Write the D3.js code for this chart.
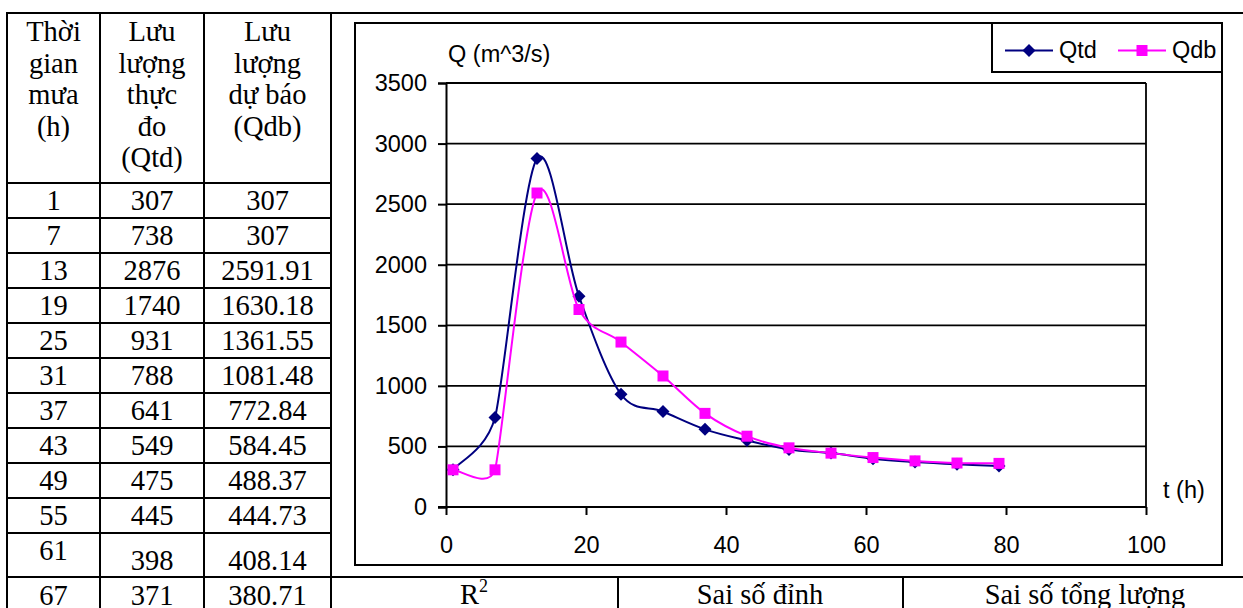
<!DOCTYPE html>
<html><head><meta charset="utf-8">
<script src="https://cdn.jsdelivr.net/npm/d3@7"></script>
<style>html,body{margin:0;padding:0;background:#fff;} svg{display:block}</style>
</head><body>
<svg id="c" width="1243" height="608"></svg>
<script>
// ---------- data ----------
const times = [1,7,13,19,25,31,37,43,49,55,61,67,73,79];
const qtd = [307,738,2876,1740,931,788,641,549,475,445,398,371,352,338];
const qdb = [307,307,2591.91,1630.18,1361.55,1081.48,772.84,584.45,488.37,444.73,408.14,380.71,363,360];
const tableRowCount = 12;
const headerCol1 = ["Thời","gian","mưa","(h)"];
const headerCol2 = ["Lưu","lượng","thực","đo","(Qtd)"];
const headerCol3 = ["Lưu","lượng","dự báo","(Qdb)"];
const statLabels = ["R", "Sai số đỉnh", "Sai số tổng lượng"];
const xTicks = [0,20,40,60,80,100];
const yTicks = [0,500,1000,1500,2000,2500,3000,3500];
const seriesNames = ["Qtd","Qdb"];
const yTitle = "Q (m^3/s)";
const xTitle = "t (h)";

// ---------- setup ----------
const svg = d3.select("#c");
const SERIF = "'Liberation Serif','Times New Roman',serif";
const SANS = "'Liberation Sans',Arial,sans-serif";
const TFS = 28.5, CFS = 23.5;
const NAVY = "#000080", MAG = "#FF00FF";

svg.append("rect").attr("width",1243).attr("height",608).attr("fill","#fff");

// ---------- table ----------
const colX = [7,100,204,331];
const rowTop = i => i < 11 ? 183 + 35*i : 577;
const tbl = svg.append("g").attr("stroke","#000").attr("stroke-width",2);
const hline = (x1,x2,y) => tbl.append("line").attr("x1",x1).attr("x2",x2).attr("y1",y).attr("y2",y);
const vline = (x,y1,y2) => tbl.append("line").attr("x1",x).attr("x2",x).attr("y1",y1).attr("y2",y2);
hline(6,1243,13);
colX.forEach(x => vline(x,12,608));
for (let i=0;i<11;i++) hline(6,332,rowTop(i));
hline(6,1243,577);
vline(618,577,608); vline(903,577,608);

const colC = [53.5,152,267.5];
const txt = svg.append("g").attr("font-family",SERIF).attr("font-size",TFS).attr("text-anchor","middle").attr("fill","#000");
[headerCol1,headerCol2,headerCol3].forEach((lines,c) => {
  lines.forEach((s,j) => txt.append("text").attr("x",colC[c]).attr("y",41 + 31.5*j).text(s));
});
for (let i=0;i<tableRowCount;i++){
  const top = rowTop(i);
  let b1 = top+27, b2 = top+27;
  if (i===10){ b1 = top+27; b2 = top+37; }
  if (i===11){ b1 = top+28; b2 = top+28; }
  txt.append("text").attr("x",colC[0]).attr("y",b1).text(String(times[i]));
  txt.append("text").attr("x",colC[1]).attr("y",b2).text(String(qtd[i]));
  txt.append("text").attr("x",colC[2]).attr("y",b2).text(String(qdb[i]));
}
// stats row
const r2 = txt.append("text").attr("x",474).attr("y",604);
r2.append("tspan").text(statLabels[0]);
r2.append("tspan").attr("font-size",18).attr("dy",-12).text("2");
txt.append("text").attr("x",760).attr("y",604).text(statLabels[1]);
txt.append("text").attr("x",1085).attr("y",604).text(statLabels[2]);

// ---------- chart ----------
svg.append("rect").attr("x",355).attr("y",23).attr("width",867).attr("height",542)
  .attr("fill","#fff").attr("stroke","#000").attr("stroke-width",2);

const x = d3.scaleLinear().domain([0,100]).range([446,1146]);
const y = d3.scaleLinear().domain([0,3500]).range([507,83]);

const g = svg.append("g");
// gridlines
g.append("g").selectAll("line").data(yTicks.filter(v=>v>0)).join("line")
  .attr("x1",x(0)).attr("x2",x(100)).attr("y1",d=>y(d)).attr("y2",d=>y(d))
  .attr("stroke","#000").attr("stroke-width",1.8);
// plot area right border
g.append("line").attr("x1",x(100)).attr("x2",x(100)).attr("y1",y(3500)).attr("y2",y(0))
  .attr("stroke","#000").attr("stroke-width",1.8);

const yAxis = g.append("g").attr("transform",`translate(${x(0)},0)`)
  .call(d3.axisLeft(y).tickValues(yTicks).tickSize(8).tickPadding(11).tickFormat(d3.format("d")));
const xAxis = g.append("g").attr("transform",`translate(0,${y(0)})`)
  .call(d3.axisBottom(x).tickValues(xTicks).tickSize(8).tickPadding(21).tickFormat(d3.format("d")));
[yAxis,xAxis].forEach(a => {
  a.select(".domain").attr("stroke","#000").attr("stroke-width",2);
  a.selectAll(".tick line").attr("stroke","#000").attr("stroke-width",2);
  a.selectAll("text").attr("font-family",SANS).attr("font-size",CFS).attr("fill","#000");
});
xAxis.select(".domain").attr("d",`M${x(0)-8},0H${x(100)}`);

g.append("text").attr("x",448).attr("y",62).attr("font-family",SANS).attr("font-size",CFS).text(yTitle);
g.append("text").attr("x",1163).attr("y",498).attr("font-family",SANS).attr("font-size",CFS).text(xTitle);

// Excel-like smoothing curve
function excelCurve(context){
  let pts;
  return {
    areaStart(){}, areaEnd(){},
    lineStart(){ pts = []; },
    point(px,py){ pts.push([+px,+py]); },
    lineEnd(){
      const n = pts.length; if (!n) return;
      context.moveTo(pts[0][0],pts[0][1]);
      const cin=[], cout=[];
      for (let i=0;i<n;i++){
        const p=pts[i], pr=pts[Math.max(i-1,0)], nx=pts[Math.min(i+1,n-1)];
        const dx=nx[0]-pr[0], dy=nx[1]-pr[1], d02=Math.hypot(dx,dy);
        if (d02===0){ cin[i]=p; cout[i]=p; continue; }
        let arm=d02/6;
        if (i>0 && i<n-1){
          const d01=Math.hypot(p[0]-pr[0],p[1]-pr[1]), d12=Math.hypot(nx[0]-p[0],nx[1]-p[1]);
          arm=Math.min(arm,d01/2,d12/2);
        }
        const ux=dx/d02, uy=dy/d02;
        cin[i]=[p[0]-ux*arm,p[1]-uy*arm]; cout[i]=[p[0]+ux*arm,p[1]+uy*arm];
      }
      for (let i=0;i<n-1;i++){
        context.bezierCurveTo(cout[i][0],cout[i][1],cin[i+1][0],cin[i+1][1],pts[i+1][0],pts[i+1][1]);
      }
    }
  };
}
const line = d3.line().x(d=>x(d[0])).y(d=>y(d[1])).curve(excelCurve);
const dTd = times.map((t,i)=>[t,qtd[i]]);
const dDb = times.map((t,i)=>[t,qdb[i]]);
const diamond = "M0,-6.5L6.5,0L0,6.5L-6.5,0Z";
const square = "M-5.5,-5.5H5.5V5.5H-5.5Z";

g.append("path").attr("d",line(dTd)).attr("fill","none").attr("stroke",NAVY).attr("stroke-width",2);
g.append("g").selectAll("path").data(dTd).join("path").attr("d",diamond)
  .attr("transform",d=>`translate(${x(d[0])},${y(d[1])})`).attr("fill",NAVY);
g.append("path").attr("d",line(dDb)).attr("fill","none").attr("stroke",MAG).attr("stroke-width",2);
g.append("g").selectAll("path").data(dDb).join("path").attr("d",square)
  .attr("transform",d=>`translate(${x(d[0])},${y(d[1])})`).attr("fill",MAG);

// legend
const lg = svg.append("g");
lg.append("rect").attr("x",992).attr("y",23).attr("width",230).attr("height",49)
  .attr("fill","#fff").attr("stroke","#000").attr("stroke-width",2);
const legItems = [
  {name:seriesNames[0], color:NAVY, mark:diamond, x0:1005},
  {name:seriesNames[1], color:MAG, mark:square, x0:1118}
];
legItems.forEach(it => {
  lg.append("line").attr("x1",it.x0).attr("x2",it.x0+48).attr("y1",50.5).attr("y2",50.5)
    .attr("stroke",it.color).attr("stroke-width",2);
  lg.append("path").attr("d",it.mark).attr("transform",`translate(${it.x0+24},50.5)`).attr("fill",it.color);
  lg.append("text").attr("x",it.x0+54).attr("y",57.5).attr("font-family",SANS).attr("font-size",CFS).text(it.name);
});
</script>
</body></html>
